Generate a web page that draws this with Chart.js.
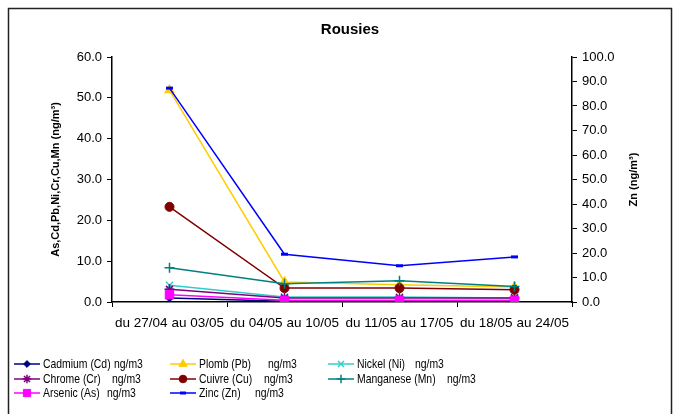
<!DOCTYPE html>
<html><head><meta charset="utf-8">
<script src="https://cdn.jsdelivr.net/npm/chart.js@4/dist/chart.umd.min.js"></script>
<style>html,body{margin:0;padding:0;background:#fff}#wrap{width:680px;height:414px}</style>
</head><body><div id="wrap"><canvas id="c" width="680" height="414"></canvas></div>
<script>
// Weekly mean concentrations, Rousies station
const weeks = ['du 27/04 au 03/05', 'du 04/05 au 10/05', 'du 11/05 au 17/05', 'du 18/05 au 24/05'];
const cadmium   = [1.0, 0.2, 0.2, 0.2];
const plomb     = [51.9, 4.9, 4.2, 3.7];
const nickel    = [4.1, 1.2, 1.2, 1.0];
const chrome    = [3.1, 1.0, 1.0, 1.0];
const cuivre    = [23.3, 3.4, 3.4, 3.0];
const manganese = [8.4, 4.5, 5.2, 3.8];
const arsenic   = [1.8, 0.4, 0.4, 0.4];
const zinc      = [87.3, 19.5, 14.8, 18.4];

const seriesNames = ['Cadmium (Cd)', 'Plomb (Pb)', 'Nickel (Ni)', 'Chrome (Cr)', 'Cuivre (Cu)', 'Manganese (Mn)', 'Arsenic (As)', 'Zinc (Zn)'];
const unitLabel = 'ng/m3';
const leftAxisTitle = 'As,Cd,Pb,Ni,Cr,Cu,Mn (ng/m\u00B3)';
const rightAxisTitle = 'Zn (ng/m\u00B3)';
const chartTitle = 'Rousies';

const FONT = '"Liberation Sans", Arial, sans-serif';

function series(i, data, color, style, radius, extra) {
  return Object.assign({
    label: seriesNames[i],
    data: data,
    yAxisID: 'y',
    borderColor: color,
    backgroundColor: color,
    pointBackgroundColor: color,
    pointBorderColor: color,
    borderWidth: 1.5,
    pointStyle: style,
    pointRadius: radius,
    pointBorderWidth: 1,
    tension: 0,
    order: -i
  }, extra || {});
}

const datasets = [
  series(0, cadmium, '#000080', 'rectRot', 4),
  series(1, plomb, '#FFCC00', 'triangle', 5.5),
  series(2, nickel, '#33CCCC', 'crossRot', 5, {pointBorderWidth: 1.5}),
  series(3, chrome, '#800080', 'star', 5, {pointBorderWidth: 1.5}),
  series(4, cuivre, '#800000', 'circle', 4.5),
  series(5, manganese, '#008080', 'cross', 5, {pointBorderWidth: 1.5}),
  series(6, arsenic, '#FF00FF', 'rect', 6),
  series(7, zinc, '#0000FF', 'line', 3.5, {yAxisID: 'y2', pointBorderWidth: 3})
];

// Legend grid: three columns, filled row by row
const legendLayout = {
  cols: [14, 170, 328],
  rows: [364, 379, 393],
  unitX: [114, 268, 415, 112, 264, 447, 107, 255],
  lineLen: 26
};

const framePlugin = {
  id: 'frame',
  beforeDraw(chart) {
    const ctx = chart.ctx;
    ctx.save();
    ctx.fillStyle = '#fff';
    ctx.fillRect(0, 0, chart.width, chart.height);
    ctx.restore();
  },
  afterDraw(chart) {
    const ctx = chart.ctx;
    const area = chart.chartArea;
    ctx.save();
    // outer frame
    ctx.strokeStyle = '#222';
    ctx.lineWidth = 1.5;
    ctx.beginPath();
    ctx.moveTo(8.5, 430);
    ctx.lineTo(8.5, 8.5);
    ctx.lineTo(671.5, 8.5);
    ctx.lineTo(671.5, 430);
    ctx.stroke();

    // title
    ctx.fillStyle = '#000';
    ctx.font = 'bold 15px ' + FONT;
    ctx.textAlign = 'center';
    ctx.textBaseline = 'middle';
    ctx.fillText(chartTitle, 350, 30);

    // secondary axis title, reading bottom to top
    ctx.save();
    ctx.translate(634, (area.top + area.bottom) / 2);
    ctx.rotate(-Math.PI / 2);
    ctx.font = 'bold 11px ' + FONT;
    ctx.fillText(rightAxisTitle, 0, 0);
    ctx.restore();

    // legend
    ctx.font = '13px "Liberation Sans Narrow", ' + FONT;
    const narrowW = ctx.measureText('Cadmium (Cd)').width;
    ctx.font = '13px ' + FONT;
    const wideW = ctx.measureText('Cadmium (Cd)').width;
    const squeeze = Math.abs(narrowW - wideW) < 0.5 ? 0.8 : 1;
    ctx.textAlign = 'left';
    chart.data.datasets.forEach((ds, i) => {
      const col = i % 3, row = Math.floor(i / 3);
      const x0 = legendLayout.cols[col];
      const y = legendLayout.rows[row];
      ctx.strokeStyle = ds.borderColor;
      ctx.fillStyle = ds.borderColor;
      ctx.lineWidth = 1.5;
      ctx.beginPath();
      ctx.moveTo(x0, y);
      ctx.lineTo(x0 + legendLayout.lineLen, y);
      ctx.stroke();
      ctx.lineWidth = ds.pointBorderWidth;
      Chart.helpers.drawPoint(ctx, {
        pointStyle: ds.pointStyle,
        radius: ds.pointRadius * 0.85,
        rotation: 0,
        borderWidth: ds.pointBorderWidth
      }, x0 + legendLayout.lineLen / 2, y);
      ctx.fillStyle = '#000';
      const fam = squeeze === 1 ? '"Liberation Sans Narrow", ' + FONT : FONT;
      ctx.font = '13px ' + fam;
      const tx = x0 + legendLayout.lineLen + 3;
      ctx.save();
      ctx.translate(tx, y);
      ctx.scale(squeeze, 1);
      ctx.fillText(ds.label, 0, 0);
      ctx.restore();
      ctx.save();
      ctx.translate(legendLayout.unitX[i], y);
      ctx.scale(squeeze, 1);
      ctx.fillText(unitLabel, 0, 0);
      ctx.restore();
    });
    ctx.restore();
  }
};

new Chart(document.getElementById('c'), {
  type: 'line',
  data: { labels: weeks, datasets: datasets },
  plugins: [framePlugin],
  options: {
    responsive: false,
    animation: false,
    devicePixelRatio: 1,
    layout: { padding: { top: 57, left: 0, right: 0, bottom: 0 } },
    plugins: { legend: { display: false }, tooltip: { enabled: false } },
    scales: {
      x: {
        type: 'category',
        offset: true,
        grid: { offset: true, drawOnChartArea: false, tickLength: 5, color: '#000' },
        border: { color: '#000', width: 1.5 },
        ticks: { color: '#000', font: { family: FONT, size: 13.5 }, padding: 8, maxRotation: 0, autoSkip: false },
        afterFit(s) { s.height = 112; }
      },
      y: {
        position: 'left',
        min: 0, max: 60,
        grid: { drawOnChartArea: false, tickLength: 5, color: '#000' },
        border: { color: '#000', width: 1.5 },
        ticks: { stepSize: 10, color: '#000', font: { family: FONT, size: 13 }, padding: 5, callback: v => v.toFixed(1) },
        title: { display: true, text: leftAxisTitle, color: '#000', font: { family: FONT, size: 11, weight: 'bold' }, padding: { top: 49, bottom: 0 } },
        afterFit(s) { s.width = 112; }
      },
      y2: {
        position: 'right',
        min: 0, max: 100,
        grid: { drawOnChartArea: false, tickLength: 5, color: '#000' },
        border: { color: '#000', width: 1.5 },
        ticks: { stepSize: 10, color: '#000', font: { family: FONT, size: 13 }, padding: 5, callback: v => v.toFixed(1) },
        title: { display: false },
        afterFit(s) { s.width = 108; }
      }
    }
  }
});
</script>
</body></html>
